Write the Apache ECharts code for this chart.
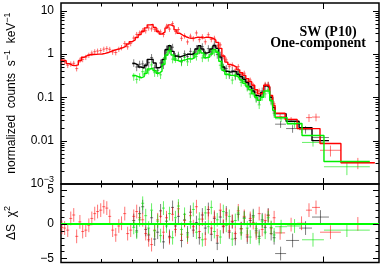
<!DOCTYPE html>
<html>
<head>
<meta charset="utf-8">
<script src="https://cdn.jsdelivr.net/npm/echarts@6.0.0/dist/echarts.min.js"></script>
<style>
html,body{margin:0;padding:0;background:#ffffff;}
#chart{width:382px;height:266px;}
</style>
</head>
<body>
<div id="chart"></div>
<script>
// ---------- data (energies in keV, normalized counts s^-1 keV^-1) ----------
const redE = [0.302,0.308,0.315,0.322,0.329,0.336,0.344,0.351,0.359,0.367,0.375,0.383,0.391,0.400,0.409,0.418,0.427,0.436,0.446,0.456,0.465,0.476,0.486,0.497,0.508,0.519,0.530,0.542,0.554,0.566,0.578,0.591,0.604,0.617,0.630,0.644,0.658,0.673,0.687,0.702,0.718,0.734,0.750,0.766,0.782,0.800,0.817,0.835,0.853,0.872,0.891,0.911,0.930,0.951,0.972,0.993,1.015,1.037,1.060,1.083,1.106,1.131,1.156,1.181,1.207,1.233,1.260,1.288,1.316,1.345,1.374,1.404];
const redCounts = [0.68,0.66,0.55,0.59,0.61,0.46,0.72,0.75,0.84,0.94, 1.05,1.13,1.17,1.20,1.29,1.33,1.28,1.11,1.08,1.29, 1.41,1.75,1.46,1.75,2.33,2.83,3.05,3.50,3.44,4.00, 3.80,3.73,3.50,3.22,2.82,4.36,3.76,5.02,3.31,3.66, 2.30,2.63,1.90,2.58,2.26,3.06,2.14,2.51,1.91,2.78, 2.16,2.31,1.54,1.62,0.87,0.73,0.51,0.56,0.43,0.51, 0.34,0.36,0.23,0.25,0.19,0.13,0.14,0.12,0.20,0.20, 0.10,0.071];
const redModel = [0.72,0.70,0.60,0.55,0.54,0.56,0.70,0.84,0.92,0.96, 0.97,0.98,0.99,1.00,1.03,1.08,1.15,1.22,1.28,1.33, 1.40,1.52,1.70,1.92,2.10,2.40,2.80,3.30,4.00,4.70, 4.80,4.10,3.30,2.90,3.20,4.00,4.70,4.40,3.60,3.00, 2.70,2.50,2.35,2.30,2.35,2.45,2.40,2.35,2.45,2.40, 2.30,2.10,1.85,1.35,0.90,0.65,0.57,0.54,0.50,0.43, 0.37,0.32,0.27,0.23,0.19,0.15,0.12,0.13,0.19,0.18, 0.11,0.065];
const redResid = [-0.5,-0.6,-0.9,0.8,1.3,-1.8,0.3,-1.1,-0.9,-0.2, 0.8,1.5,1.8,2.0,2.5,2.3,1.1,-0.9,-1.6,-0.3, 0.1,1.5,-1.4,-0.9,1.1,1.8,0.9,0.6,-1.4,-2.3, -3.0,-0.9,0.6,1.1,-1.2,0.9,-2.0,1.4,-0.8,2.2, -1.5,0.5,-1.9,1.2,-0.4,2.5,-1.1,0.7,-2.2,1.6, -0.6,1.0,-1.7,2.0,-0.3,1.3,-1.0,0.4,-1.4,1.9, -0.7,1.1,-1.6,0.8,0.2,-1.3,1.5,-0.8,0.5,1.2, -0.6,0.9];

const bgE = [0.508,0.519,0.530,0.542,0.554,0.566,0.578,0.591,0.604,0.617,0.630,0.644,0.658,0.673,0.687,0.702,0.718,0.734,0.750,0.766,0.782,0.800,0.817,0.835,0.853,0.872,0.891,0.911,0.930,0.951,0.972,0.993,1.015,1.037,1.060,1.083,1.106,1.131,1.156,1.181,1.207,1.233,1.260,1.288,1.316,1.345,1.374,1.404];
const blackCounts = [0.63,0.50,0.58,0.59,0.51,0.63,0.83,0.48,0.42,0.62, 0.56,1.30,1.27,1.43,0.87,0.94,0.68,1.01,0.87,1.15, 0.96,1.33,1.24,1.47,0.99,1.33,1.11,1.67,0.97,0.94, 0.48,0.46,0.33,0.41,0.31,0.39,0.28,0.28,0.18,0.18, 0.16,0.099,0.086,0.14,0.18,0.19,0.086,0.046];
const blackModel = [0.60,0.56,0.50,0.47,0.55,0.75,0.76,0.62,0.48,0.52, 0.75,1.25,1.55,1.15,0.90,0.85,0.90,0.95,1.00,0.98, 1.05,1.30,1.55,1.30,1.05,1.10,1.30,1.55,1.35,0.85, 0.50,0.40,0.38,0.40,0.39,0.34,0.30,0.26,0.22,0.175, 0.14,0.11,0.105,0.13,0.185,0.17,0.10,0.058];
const blackResid = [0.5,-1.0,1.5,2.5,-0.8,-1.6,0.9,-2.2,-1.2,1.9, -2.6,0.4,-1.8,2.4,-0.3,1.1,-2.4,0.6,-1.3,1.7, -0.9,0.2,-2.0,1.3,-0.6,2.1,-1.5,0.8,-2.8,1.0, -0.4,1.6,-1.2,0.3,-2.1,1.4,-0.7,0.9,-1.9,0.5, 1.2,-1.0,-1.8,0.6,-0.5,1.3,-1.4,-2.0];
const greenCounts = [0.30,0.26,0.30,0.39,0.40,0.42,0.56,0.37,0.37,0.33, 0.71,0.92,1.38,0.76,0.78,0.86,0.65,0.84,0.66,0.78, 0.99,0.88,1.28,0.81,0.95,0.83,1.24,1.11,1.17,0.55, 0.50,0.33,0.36,0.25,0.33,0.32,0.22,0.23,0.17,0.12, 0.13,0.093,0.067,0.104,0.12,0.15,0.081,0.042];
const greenModel = [0.32,0.30,0.28,0.30,0.36,0.45,0.47,0.41,0.36,0.40, 0.58,0.95,1.20,0.95,0.72,0.68,0.71,0.74,0.78,0.76, 0.82,1.00,1.20,1.05,0.82,0.86,1.00,1.25,1.10,0.68, 0.42,0.34,0.32,0.32,0.31,0.28,0.25,0.21,0.18,0.15, 0.12,0.10,0.085,0.10,0.14,0.14,0.085,0.05];
const greenResid = [-0.5,-1.2,0.6,3.0,1.2,-0.6,2.0,-1.0,0.4,-1.7, 2.3,-0.3,1.5,-2.0,0.9,2.6,-0.8,1.4,-1.6,0.3, 2.1,-1.2,0.7,-2.3,1.6,-0.4,2.4,-1.1,0.6,-1.9, 1.8,-0.2,1.1,-2.2,0.5,1.6,-1.3,0.8,-0.6,-1.9, 1.0,-0.7,-2.1,0.4,-1.2,0.9,-0.5,-1.6];

// wide (grouped) high-energy bins
const redWideLo = [1.414,1.520,1.658,1.768,1.847,1.957,2.277];
const redWideHi = [1.520,1.658,1.768,1.847,1.957,2.277,2.910];
const redWideCounts = [0.036,0.031,0.019,0.034,0.035,0.0060,0.0031];
const redWideErr = [0.005,0.004,0.004,0.007,0.007,0.0017,0.0009];
const redWideModel = [0.043,0.031,0.019,0.019,0.019,0.0086,0.0031];
const redWideResid = [-1.3,-0.1,0.1,2.0,2.4,-1.2,0.0];

const blackWideLo = [1.414,1.531,1.682,1.847];
const blackWideHi = [1.531,1.682,1.847,2.088];
const blackWideCounts = [0.024,0.019,0.018,0.0118];
const blackWideErr = [0.0043,0.0038,0.0035,0.0018];
const blackWideModel = [0.042,0.028,0.020,0.010];
const blackWideResid = [-4.3,-2.4,-0.6,1.0];

const greenWideLo = [1.414,1.542,1.718,2.014];
const greenWideHi = [1.542,1.718,2.014,2.807];
const greenWideCounts = [0.032,0.0237,0.0091,0.0025];
const greenWideErr = [0.005,0.004,0.0018,0.0009];
const greenWideModel = [0.034,0.025,0.0132,0.0033];
const greenWideResid = [-0.4,-0.3,-2.3,-0.9];

// relative 1-sigma errors of the fine bins
const redRelErr = 0.14, blackRelErr = 0.2, greenRelErr = 0.2;
const residErr = 1;

// tick values
const xMinorTicks = [0.4,0.5,0.6,0.7,0.8,0.9];
const xMajorTicks = [1,2];
const yMinorTicksTop = [0.002,0.003,0.004,0.005,0.006,0.007,0.008,0.009,0.02,0.03,0.04,0.05,0.06,0.07,0.08,0.09,0.2,0.3,0.4,0.5,0.6,0.7,0.8,0.9,2,3,4,5,6,7,8,9];
const yMajorTicksTop = [0.01,0.1,1,10];
const yMinorTicksRes = [-4,-3,-2,-1,1,2,3,4];
const yMajorTicksRes = [-5,0,5];
const resLabels = [-5,0,5];

// ---------- helpers ----------
function edges(E, i) {
  const prev = i > 0 ? E[i-1] : E[i]*E[i]/E[i+1];
  const next = i < E.length-1 ? E[i+1] : E[i]*E[i]/E[i-1];
  return [Math.sqrt(prev*E[i]), Math.sqrt(E[i]*next)];
}
function countItems(E, vals, rel, lo2, hi2, vals2, err2) {
  const out = E.map((e,i) => { const [a,b] = edges(E,i); const v = vals[i]; return [e,a,b,v,v*(1-rel),v*(1+rel)]; });
  lo2.forEach((l,j) => { const h = hi2[j], v = vals2[j]; const lowV = Math.max(v-err2[j], v*0.05); out.push([Math.sqrt(l*h), l, h, v, lowV, v+err2[j]]); });
  return out;
}
function residItems(E, r, lo2, hi2, r2) {
  const out = E.map((e,i) => { const [a,b] = edges(E,i); return [e,a,b,r[i],r[i]-residErr,r[i]+residErr]; });
  lo2.forEach((l,j) => { const h = hi2[j]; out.push([Math.sqrt(l*h), l, h, r2[j], r2[j]-residErr, r2[j]+residErr]); });
  return out;
}
function modelPts(E, m, lo2, hi2, m2) {
  const pts = E.map((e,i) => [edges(E,i)[0], m[i]]);
  lo2.forEach((l,j) => pts.push([l, m2[j]]));
  pts.push([hi2[hi2.length-1], m2[m2.length-1]]);
  return pts;
}
function crossRender(color) {
  return function (params, api) {
    const c = api.value(0), lo = api.value(1), hi = api.value(2), y = api.value(3), ylo = api.value(4), yhi = api.value(5);
    const a = api.coord([lo, y]), b = api.coord([hi, y]), t = api.coord([c, yhi]), u = api.coord([c, ylo]);
    return { type: 'group', children: [
      { type: 'line', shape: { x1: a[0], y1: a[1], x2: b[0], y2: b[1] }, style: { stroke: color, lineWidth: 1 } },
      { type: 'line', shape: { x1: t[0], y1: t[1], x2: u[0], y2: u[1] }, style: { stroke: color, lineWidth: 1 } }
    ] };
  };
}
function tickRender(params, api) {
  const cs = params.coordSys;
  const kind = api.value(2);
  const L = (kind === 1 || kind === 3) ? 6 : 3.5;
  const st = { stroke: '#000', lineWidth: 1 };
  if (kind < 2) {
    const px = Math.round(api.coord([api.value(0), api.value(1)])[0]) + 0.5;
    return { type: 'group', children: [
      { type: 'line', shape: { x1: px, y1: cs.y, x2: px, y2: cs.y + L }, style: st },
      { type: 'line', shape: { x1: px, y1: cs.y + cs.height, x2: px, y2: cs.y + cs.height - L }, style: st }
    ] };
  }
  const py = Math.round(api.coord([api.value(0), api.value(1)])[1]) + 0.5;
  return { type: 'group', children: [
    { type: 'line', shape: { x1: cs.x, y1: py, x2: cs.x + L, y2: py }, style: st },
    { type: 'line', shape: { x1: cs.x + cs.width, y1: py, x2: cs.x + cs.width - L, y2: py }, style: st }
  ] };
}

const topTicks = [].concat(
  xMinorTicks.map(v => [v, 1, 0]), xMajorTicks.map(v => [v, 1, 1]),
  yMinorTicksTop.map(v => [1, v, 2]), yMajorTicksTop.map(v => [1, v, 3]));
const botTicks = [].concat(
  xMinorTicks.map(v => [v, 0, 0]), xMajorTicks.map(v => [v, 0, 1]),
  yMinorTicksRes.map(v => [1, v, 2]), yMajorTicksRes.map(v => [1, v, 3]));

const SANS = 'Liberation Sans';
const RED = '#ff0000', BLACK = '#000000', GREEN = '#00ee00';
const RED_D = 'rgba(255,0,0,0.55)', BLACK_D = 'rgba(0,0,0,0.5)', GREEN_D = 'rgba(0,230,0,0.6)';

function cross(data, color, gi) {
  return { type: 'custom', xAxisIndex: gi, yAxisIndex: gi, renderItem: crossRender(color), data: data,
    encode: { x: [0,1,2], y: [3,4,5] }, clip: true, silent: true, z: 2 };
}
function model(pts, color) {
  return { type: 'line', xAxisIndex: 0, yAxisIndex: 0, data: pts, step: 'end', showSymbol: false, symbol: 'none',
    lineStyle: { color: color, width: 1.4 }, clip: true, silent: true, z: 3 };
}

const option = {
  animation: false,
  backgroundColor: '#ffffff',
  grid: [
    { left: 61, top: 3, width: 318, height: 181, show: true, borderColor: '#000', borderWidth: 1.5, backgroundColor: 'transparent' },
    { left: 61, top: 184, width: 318, height: 78.5, show: true, borderColor: '#000', borderWidth: 1.5, backgroundColor: 'transparent' }
  ],
  xAxis: [0, 1].map(g => ({ type: 'log', logBase: 10, gridIndex: g, min: 0.3, max: 3,
    axisLine: { show: false, onZero: false }, axisTick: { show: false }, axisLabel: { show: false }, splitLine: { show: false } })),
  yAxis: [
    { type: 'log', logBase: 10, gridIndex: 0, min: 0.001, max: 15,
      axisLine: { show: false, onZero: false }, axisTick: { show: false }, splitLine: { show: false },
      axisLabel: { show: true, margin: 7, showMaxLabel: false, color: '#000', fontSize: 12, fontFamily: SANS,
        formatter: function (v) {
          const lg = Math.log10(v);
          if (Math.abs(lg - Math.round(lg)) > 1e-6) return '';
          const n = Math.round(lg);
          if (n === -3) return '{b|10}{s|−3}';
          return { '-2': '0.01', '-1': '0.1', '0': '1', '1': '10' }[String(n)] || '';
        },
        rich: { b: { fontSize: 12, fontFamily: SANS, color: '#000' }, s: { fontSize: 9, fontFamily: SANS, color: '#000', padding: [0, 0, 8, 0] } } } },
    { type: 'value', gridIndex: 1, min: -5.6, max: 5.8,
      axisLine: { show: false, onZero: false }, axisTick: { show: false }, splitLine: { show: false },
      axisLabel: { show: true, margin: 7, color: '#000', fontSize: 12, fontFamily: SANS, customValues: resLabels,
        formatter: v => (v < 0 ? '−' + Math.abs(v) : String(v)) } }
  ],
  graphic: [
    { type: 'text', x: 12, y: 93, rotation: Math.PI / 2,
      style: { text: 'normalized  counts  s{s|−1}  keV{s|−1}', font: '12px "Liberation Sans"', fill: '#000', align: 'center', verticalAlign: 'middle',
        rich: { s: { fontSize: 9, fontFamily: SANS, padding: [0, 0, 8, 0] } } } },
    { type: 'text', x: 12, y: 223, rotation: Math.PI / 2,
      style: { text: 'ΔS  χ{s|2}', font: '12px "Liberation Sans"', fill: '#000', align: 'center', verticalAlign: 'middle',
        rich: { s: { fontSize: 9, fontFamily: SANS, padding: [0, 0, 8, 0] } } } },
    { type: 'text', x: 328, y: 32, style: { text: 'SW (P10)', font: 'bold 14px "Liberation Serif"', fill: '#000', align: 'center', verticalAlign: 'middle' } },
    { type: 'text', x: 318, y: 43.5, style: { text: 'One-component', font: 'bold 14px "Liberation Serif"', fill: '#000', align: 'center', verticalAlign: 'middle' } }
  ],
  series: [
    cross(countItems(bgE, blackCounts, blackRelErr, blackWideLo, blackWideHi, blackWideCounts, blackWideErr), BLACK_D, 0),
    cross(countItems(redE, redCounts, redRelErr, redWideLo, redWideHi, redWideCounts, redWideErr), RED_D, 0),
    cross(countItems(bgE, greenCounts, greenRelErr, greenWideLo, greenWideHi, greenWideCounts, greenWideErr), GREEN_D, 0),
    model(modelPts(bgE, blackModel, blackWideLo, blackWideHi, blackWideModel), BLACK),
    model(modelPts(redE, redModel, redWideLo, redWideHi, redWideModel), RED),
    model(modelPts(bgE, greenModel, greenWideLo, greenWideHi, greenWideModel), GREEN),
    cross(residItems(bgE, blackResid, blackWideLo, blackWideHi, blackWideResid), BLACK_D, 1),
    cross(residItems(redE, redResid, redWideLo, redWideHi, redWideResid), RED_D, 1),
    cross(residItems(bgE, greenResid, greenWideLo, greenWideHi, greenWideResid), GREEN_D, 1),
    { type: 'line', xAxisIndex: 1, yAxisIndex: 1, data: [[0.3, 0], [3, 0]], showSymbol: false, symbol: 'none',
      lineStyle: { color: '#00ff00', width: 2 }, silent: true, z: 4 },
    { type: 'custom', xAxisIndex: 0, yAxisIndex: 0, renderItem: tickRender, data: topTicks, encode: { x: 0, y: 1 }, silent: true, z: 10, clip: false },
    { type: 'custom', xAxisIndex: 1, yAxisIndex: 1, renderItem: tickRender, data: botTicks, encode: { x: 0, y: 1 }, silent: true, z: 10, clip: false }
  ]
};
const chart = echarts.init(document.getElementById('chart'));
chart.setOption(option);
</script>
</body>
</html>
